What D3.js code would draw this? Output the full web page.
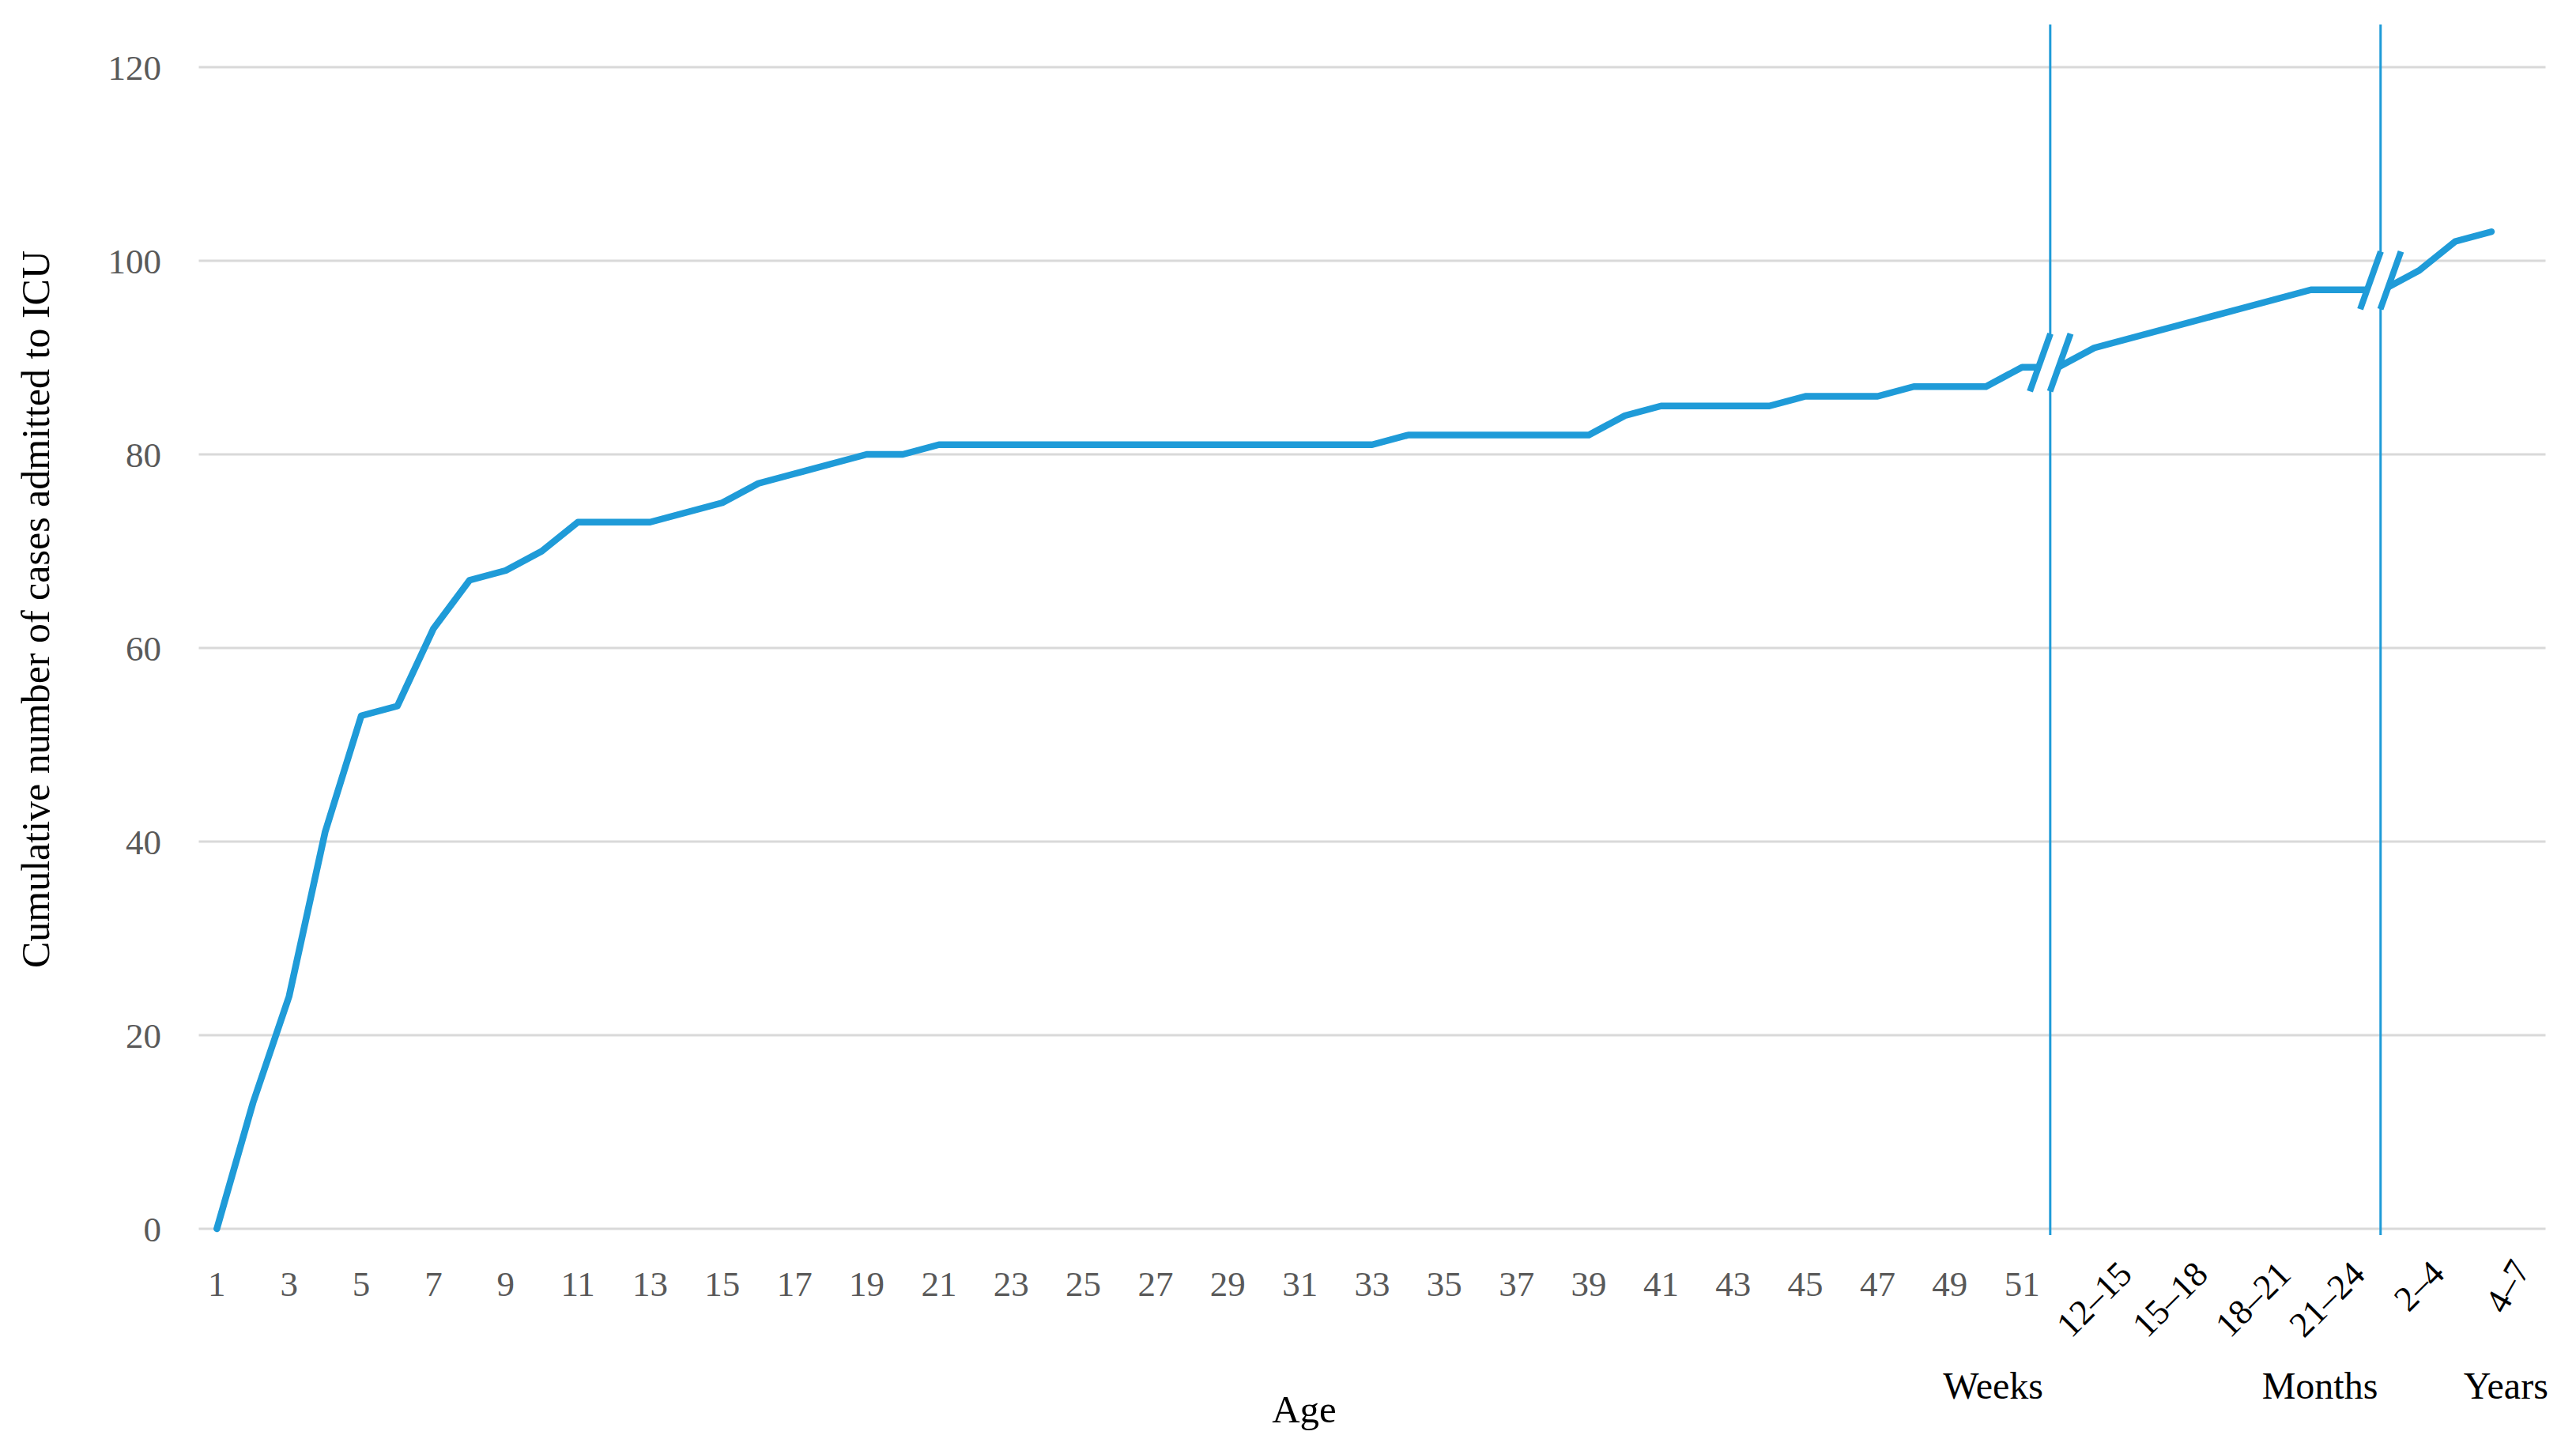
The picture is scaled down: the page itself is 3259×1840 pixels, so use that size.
<!DOCTYPE html>
<html>
<head>
<meta charset="utf-8">
<script src="https://cdn.jsdelivr.net/npm/d3@7"></script>
<style>
  html, body { margin: 0; padding: 0; background: #ffffff; }
  svg { display: block; }
</style>
</head>
<body>
<svg id="chart" width="3259" height="1840"></svg>
<script>
// ---------------- DATA ----------------
// Age categories: weeks 1–52, then month groups, then year groups
const weekCategories = ["1","2","3","4","5","6","7","8","9","10","11","12","13","14","15","16","17","18","19","20",
  "21","22","23","24","25","26","27","28","29","30","31","32","33","34","35","36","37","38","39","40",
  "41","42","43","44","45","46","47","48","49","50","51","52"];
const weekValues = [0,13,24,41,53,54,62,67,68,70,
  73,73,73,74,75,77,78,79,80,80,
  81,81,81,81,81,81,81,81,81,81,81,81,81,
  82,82,82,82,82,82,
  84,85,85,85,85,86,86,86,87,87,87,89,89];
const monthValues = [91,92,93,94,95,96,97,97];
const yearValues = [97,99,102,103];

const weekTickLabels = ["1","3","5","7","9","11","13","15","17","19","21","23","25","27","29","31","33","35","37","39","41","43","45","47","49","51"];
const monthTickLabels = ["12–15","15–18","18–21","21–24"];
const yearTickLabels = ["2–4","4–7"];
const groupLabels = ["Weeks","Months","Years"];
const yTicks = [0,20,40,60,80,100,120];
const xTitle = "Age";
const yTitle = "Cumulative number of cases admitted to ICU";

// ---------------- LAYOUT ----------------
const W = 3259, H = 1840;
const plot = { left: 251.5, right: 3220.5, top: 85, bottom: 1555 };
const nBands = 65;
const blue = "#1F9BD8";
const fontFam = "'Liberation Serif', 'Times New Roman', serif";
// label anchor positions in category units (hand-placed in original)
const monthLabelPos = [54.1, 56.2, 58.5, 60.55];
const yearLabelPos = [62.75, 65.1];
const groupLabelPos = [50.2, 59.25, 64.4];
const breakPos = [51.78, 60.93]; // separators between weeks/months and months/years

// Combined series
const values = weekValues.concat(monthValues, yearValues);
const series = values.map((v, i) => ({ cat: i + 1, v }));

const svg = d3.select("#chart");
svg.append("rect").attr("width", W).attr("height", H).attr("fill", "#fff");

const x = d3.scaleLinear().domain([0.5, nBands + 0.5]).range([plot.left, plot.right]);
const y = d3.scaleLinear().domain([0, 120]).range([plot.bottom, plot.top]);

// gridlines
svg.append("g").selectAll("line").data(yTicks).join("line")
  .attr("x1", plot.left).attr("x2", plot.right)
  .attr("y1", d => y(d)).attr("y2", d => y(d))
  .attr("stroke", "#D9D9D9").attr("stroke-width", 3);

// y tick labels
svg.append("g").selectAll("text").data(yTicks).join("text")
  .attr("x", 204).attr("y", d => y(d)).attr("dy", "0.35em")
  .attr("text-anchor", "end")
  .attr("font-family", fontFam).attr("font-size", 45).attr("fill", "#595959")
  .text(d => d);

// week tick labels
svg.append("g").selectAll("text").data(weekTickLabels).join("text")
  .attr("x", d => x(+d)).attr("y", 1640)
  .attr("text-anchor", "middle")
  .attr("font-family", fontFam).attr("font-size", 45).attr("fill", "#595959")
  .text(d => d);

// month / year tick labels (rotated)
const rotLabels = monthTickLabels.map((t, i) => ({ t, pos: monthLabelPos[i], ay: 1615, rot: -45 }))
  .concat(yearTickLabels.map((t, i) => ({ t, pos: yearLabelPos[i], ay: i === 1 ? 1606 : 1614, rot: i === 1 ? -60 : -45 })));
svg.append("g").selectAll("text").data(rotLabels).join("text")
  .attr("transform", d => `translate(${x(d.pos)},${d.ay}) rotate(${d.rot})`)
  .attr("text-anchor", "end")
  .attr("font-family", fontFam).attr("font-size", 45).attr("fill", "#000")
  .text(d => d.t);

// group labels
svg.append("g").selectAll("text").data(groupLabels).join("text")
  .attr("x", (d, i) => x(groupLabelPos[i])).attr("y", 1770)
  .attr("text-anchor", "middle")
  .attr("font-family", fontFam).attr("font-size", 48).attr("fill", "#000")
  .text(d => d);

// axis titles
svg.append("text").attr("x", 1650).attr("y", 1800).attr("text-anchor", "middle")
  .attr("font-family", fontFam).attr("font-size", 49).attr("fill", "#000").text(xTitle);
svg.append("text").attr("transform", "translate(62,771) rotate(-90)").attr("text-anchor", "middle")
  .attr("font-family", fontFam).attr("font-size", 50).attr("fill", "#000").text(yTitle);

// vertical separators
svg.append("g").selectAll("line").data(breakPos).join("line")
  .attr("x1", d => x(d)).attr("x2", d => x(d))
  .attr("y1", 31).attr("y2", 1563)
  .attr("stroke", blue).attr("stroke-width", 3);

// data line
const line = d3.line().x(d => x(d.cat)).y(d => y(d.v));
svg.append("path").datum(series)
  .attr("d", line).attr("fill", "none")
  .attr("stroke", blue).attr("stroke-width", 8.5)
  .attr("stroke-linejoin", "round").attr("stroke-linecap", "round");

// break marks "//" on the line at each separator
function lineValueAt(c) {
  const i = Math.floor(c);
  const a = series[i - 1], b = series[i];
  return a.v + (b.v - a.v) * (c - i);
}
const breaks = breakPos.map(p => ({ cx: x(p), cy: y(lineValueAt(p)) + (p < 55 ? -6 : -12) }));
const dxs = 13, dys = 36.5, gap = 12.75;
const bg = svg.append("g");
breaks.forEach(b => {
  // white band between the strokes
  bg.append("polygon")
    .attr("points", [
      [b.cx - gap - dxs + 3, b.cy + dys + 4], [b.cx - gap + dxs + 3, b.cy - dys - 4],
      [b.cx + gap + dxs - 3, b.cy - dys - 4], [b.cx + gap - dxs - 3, b.cy + dys + 4]
    ].map(p => p.join(",")).join(" "))
    .attr("fill", "#fff");
  [-gap, gap].forEach(off => {
    bg.append("line")
      .attr("x1", b.cx + off - dxs).attr("y1", b.cy + dys)
      .attr("x2", b.cx + off + dxs).attr("y2", b.cy - dys)
      .attr("stroke", blue).attr("stroke-width", 8);
  });
});
</script>
</body>
</html>
